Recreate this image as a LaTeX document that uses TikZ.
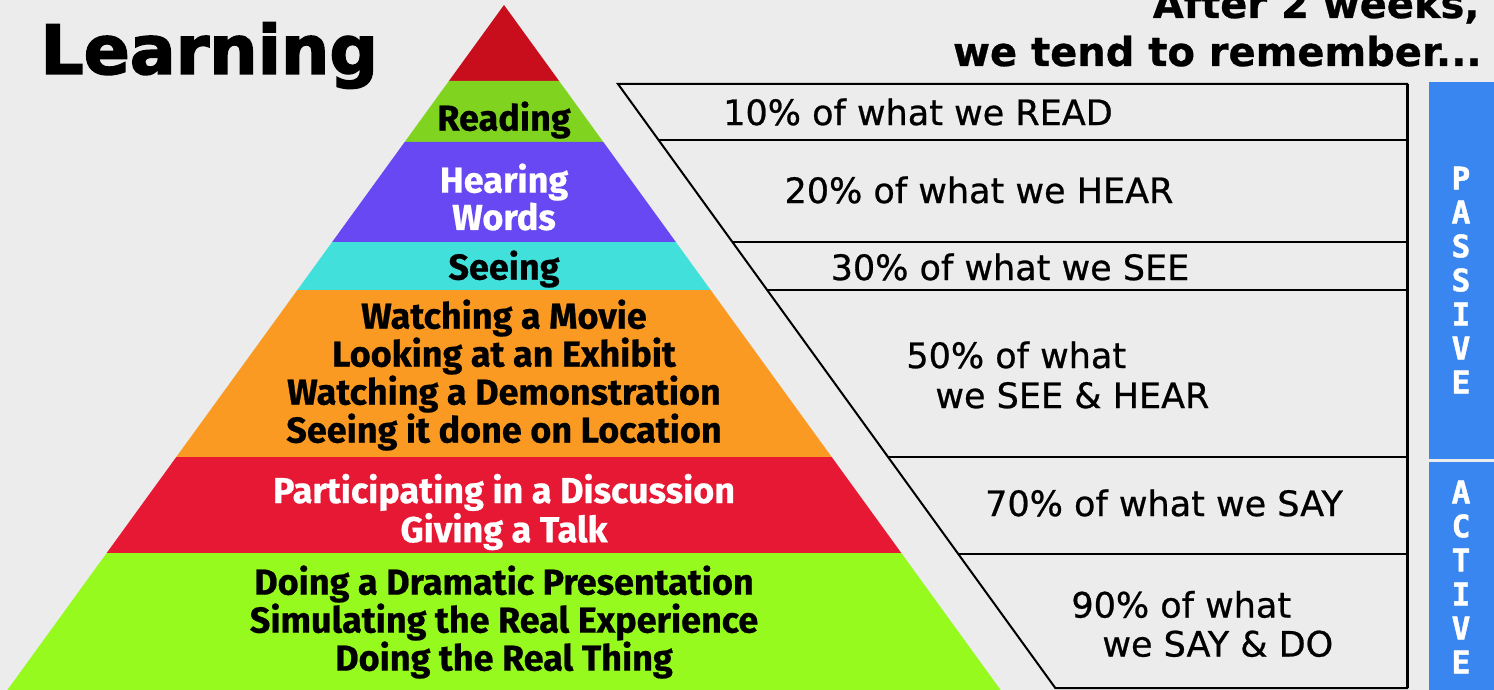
\documentclass[tikz,border=0pt]{standalone}
\usepackage{fontspec}
\setmainfont{Fira Sans}[BoldFeatures={FakeBold=0.6}]
\newfontfamily\tabfont{DejaVu Sans}[FakeBold=0.7]
\newfontfamily\titlefont{DejaVu Sans}[BoldFeatures={FakeBold=2.2}]
\newfontfamily\sidefont{DejaVu Sans Mono}[BoldFeatures={FakeBold=1.5}]
\usetikzlibrary{positioning, calc}

\definecolor{bggrey}{RGB}{236,236,236}
\definecolor{topred}{RGB}{200,14,28}
\definecolor{readgreen}{RGB}{128,212,32}
\definecolor{hearpurple}{RGB}{104,72,242}
\definecolor{seecyan}{RGB}{66,224,218}
\definecolor{watchorange}{RGB}{250,154,34}
\definecolor{talkred}{RGB}{230,24,52}
\definecolor{dolime}{RGB}{150,250,30}
\definecolor{sideblue}{RGB}{58,134,240}

\def\pslope{0.725}
\def\tslope{0.724}

\tikzset{
  pyrlabel/.style={font=\bfseries\fontsize{18}{19}\selectfont, align=center, inner sep=0pt},
  tablabel/.style={font=\tabfont\fontsize{17.5}{20}\selectfont, inner sep=0pt},
  headlabel/.style={font=\tabfont\bfseries\fontsize{20}{22}\selectfont, inner sep=0pt},
  sideletter/.style={font=\sidefont\bfseries\fontsize{15.5}{15.5}\selectfont, text=white, inner sep=0pt},
  tabline/.style={line width=1pt, black}
}

\begin{document}
\begin{tikzpicture}[x=0.5pt, y=-0.5pt]
    \useasboundingbox (0,0) rectangle (1494,690);
    \clip (0,0) rectangle (1494,690);
    \fill[bggrey] (0,0) rectangle (1494,690);

    % pyramid
    \fill[topred] (504,5) -- ({504+\pslope*76},81) -- ({504-\pslope*76},81) -- cycle;
    \foreach \ytop/\ybot/\col in {81/142/readgreen, 142/242/hearpurple, 242/290/seecyan,
                                  290/457/watchorange, 457/553/talkred, 553/700/dolime}
        \fill[\col] ({504-\pslope*(\ytop-5)},\ytop) -- ({504+\pslope*(\ytop-5)},\ytop)
                 -- ({504+\pslope*(\ybot-5)},\ybot) -- ({504-\pslope*(\ybot-5)},\ybot) -- cycle;

    \node[pyrlabel] (reading) at (504,120) {Reading};
    \node[pyrlabel, text=white, font=\bfseries\fontsize{18}{16.5}\selectfont] (hearing) at (504,197) {Hearing\\Words};
    \node[pyrlabel] (seeing) at (504,269) {Seeing};
    \node[pyrlabel] (watching) at (504,375) {Watching a Movie\\Looking at an Exhibit\\Watching a Demonstration\\Seeing it done on Location};
    \node[pyrlabel, text=white, font=\bfseries\fontsize{18}{17.5}\selectfont] (talking) at (504,512) {Participating in a Discussion\\Giving a Talk};
    \node[pyrlabel] (doing) at (504,622) {Doing a Dramatic Presentation\\Simulating the Real Experience\\Doing the Real Thing};

    % table
    \coordinate (tabTL) at (618,84);
    \coordinate (tabTR) at (1407,84);
    \coordinate (tabBR) at (1407,688);
    \coordinate (tabBL) at ({618+\tslope*604},688);
    \draw[tabline] (tabTL) -- (tabTR) -- (tabBR) -- (tabBL) -- cycle;
    \draw[tabline, line width=1.5pt] (tabTR) -- (tabBR);
    \foreach \y in {140,242,290,457,554}
        \draw[tabline] ({618+\tslope*(\y-84)},\y) -- (1407,\y);

    \node[tablabel] (read10) at (918,112) {10\% of what we READ};
    \node[tablabel] (hear20) at (979,190) {20\% of what we HEAR};
    \node[tablabel] (see30) at (1010,267) {30\% of what we SEE};
    \node[tablabel, align=left, anchor=west] (see50) at (906,375) {50\% of what\\\hspace*{14.5pt}we SEE \& HEAR};
    \node[tablabel] (say70) at (1164,503) {70\% of what we SAY};
    \node[tablabel, align=left, anchor=west, font=\tabfont\fontsize{17.5}{19.5}\selectfont] (say90) at (1071,624) {90\% of what\\\hspace*{15.5pt}we SAY \& DO};

    % passive / active bar
    \fill[sideblue] (1429,82) rectangle (1494,459);
    \fill[sideblue] (1429,462) rectangle (1494,690);
    \foreach \ch [count=\i] in {P,A,S,S,I,V,E}
        \node[sideletter] (passive\i) at (1461,{178+34*(\i-1)}) {\ch};
    \foreach \ch [count=\i] in {A,C,T,I,V,E}
        \node[sideletter] (active\i) at (1461,{492+34*(\i-1)}) {\ch};

    % headings
    \node[font=\titlefont\bfseries\fontsize{34}{34}\selectfont, inner sep=0pt, anchor=base west] (title) at (40,74) {Learning};
    \node[headlabel, anchor=base east] (after) at (1480,18) {After 2 weeks,};
    \node[headlabel, anchor=base east] (remember) at (1482,66) {we tend to remember...};
\end{tikzpicture}
\end{document}
